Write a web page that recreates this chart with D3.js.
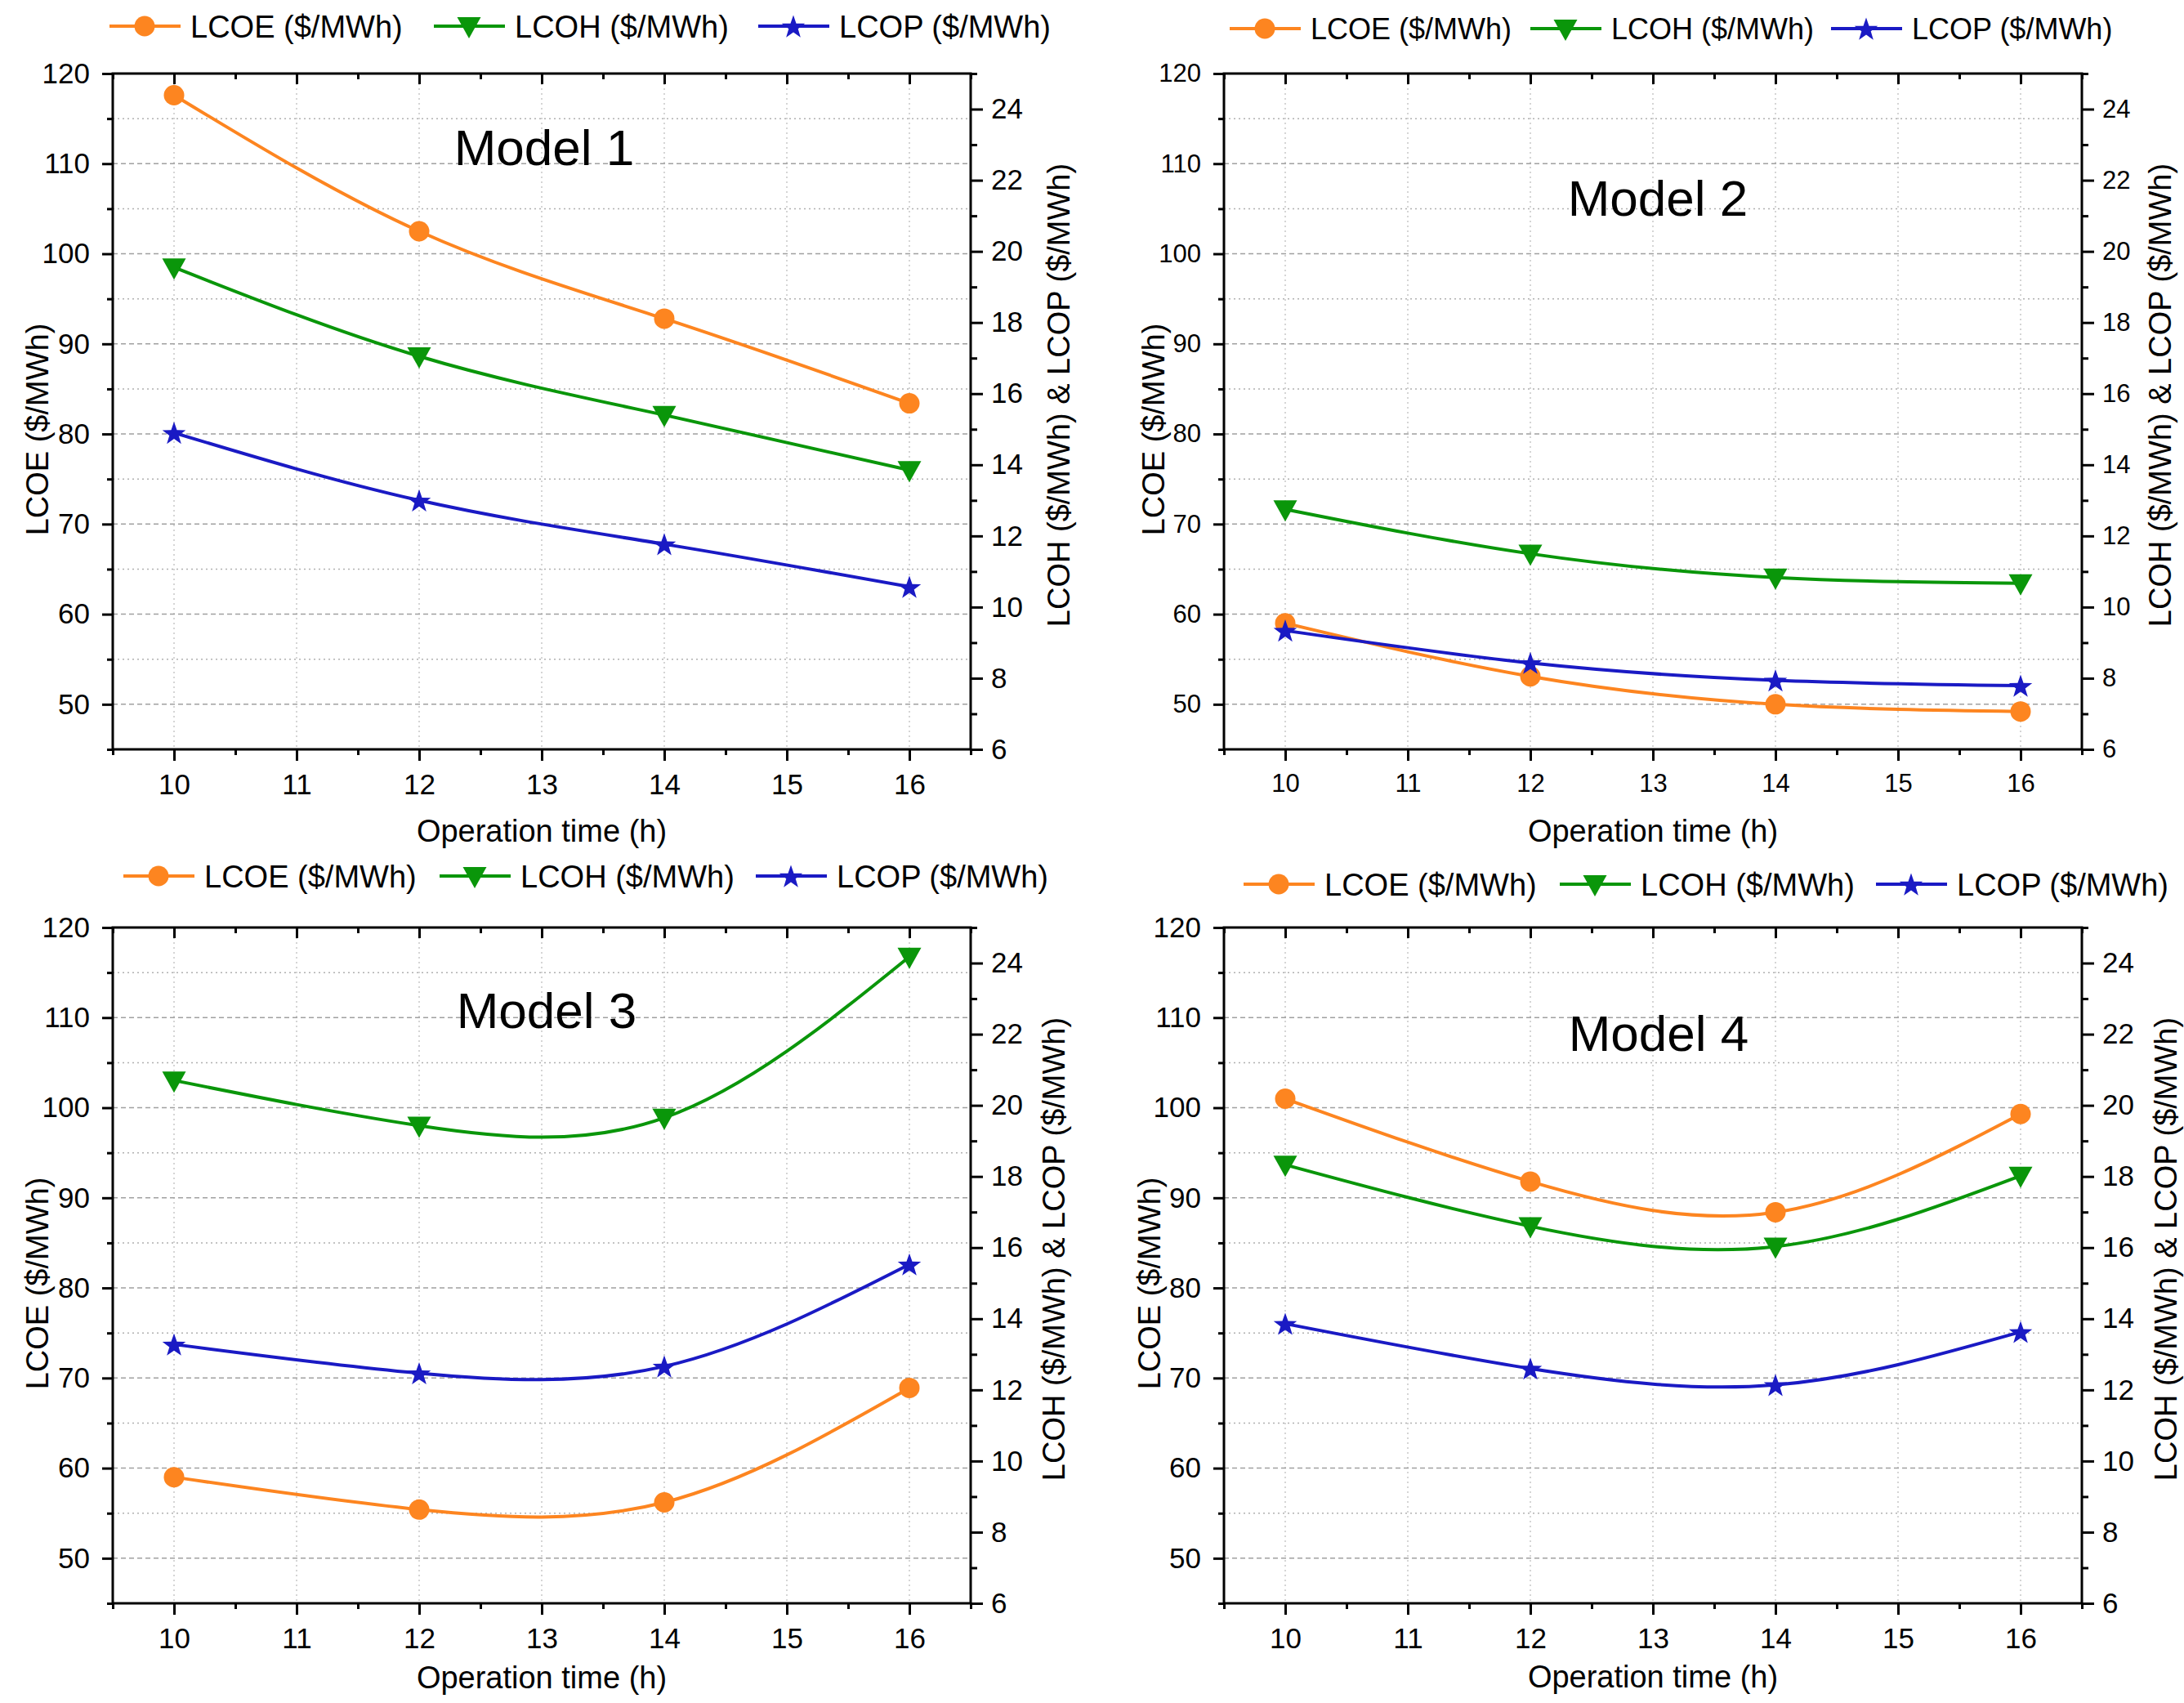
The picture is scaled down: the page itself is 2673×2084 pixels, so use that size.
<!DOCTYPE html>
<html>
<head>
<meta charset="utf-8">
<script src="https://cdn.jsdelivr.net/npm/d3@7"></script>
<style>
  body { margin: 0; background: #fff; }
  text { font-family: 'Liberation Sans', Arial, sans-serif; }
</style>
</head>
<body>
<svg id="chart" width="2673" height="2084"></svg>
<script>
// data
const hours = [10, 12, 14, 16];
const seriesNames = ['LCOE ($/MWh)', 'LCOH ($/MWh)', 'LCOP ($/MWh)'];
const modelNames = ['Model 1', 'Model 2', 'Model 3', 'Model 4'];
const lcoe = [
    [117.6, 102.5, 92.8, 83.4],
    [59.0, 53.1, 50.0, 49.2],
    [59.0, 55.4, 56.2, 68.9],
    [101.0, 91.8, 88.4, 99.3]
];
const lcoh = [
    [19.55, 17.05, 15.4, 13.85],
    [12.75, 11.5, 10.83, 10.67],
    [20.7, 19.43, 19.65, 24.18],
    [18.33, 16.6, 16.03, 18.02]
];
const lcop = [
    [14.9, 13.0, 11.77, 10.57],
    [9.34, 8.43, 7.94, 7.79],
    [13.28, 12.47, 12.66, 15.53],
    [13.86, 12.6, 12.14, 13.63]
];
const xTicks = [10, 11, 12, 13, 14, 15, 16];
const xMinor = [9.5, 10.5, 11.5, 12.5, 13.5, 14.5, 15.5, 16.5];
const leftTicks = [50, 60, 70, 80, 90, 100, 110, 120];
const leftMinor = [45, 55, 65, 75, 85, 95, 105, 115];
const rightTicks = [6, 8, 10, 12, 14, 16, 18, 20, 22, 24];
const rightMinor = [7, 9, 11, 13, 15, 17, 19, 21, 23, 25];
const xTitle = 'Operation time (h)';
const leftTitle = 'LCOE ($/MWh)';
const rightTitle = 'LCOH ($/MWh) & LCOP ($/MWh)';

const colors = ['#FD8520', '#0A960A', '#1A1AC4'];

// panel placement
const W = 1050, H = 827;
const panels = [
    {x: 138, y: 90, lx: 134, ly: 32, lstep: 397, lfs: 38, tfs: 35, model: [528, 90], ylt: -93, yrt: 107, xt: 102},
    {x: 1498, y: 90, lx: 1505, ly: 35, lstep: 368, lfs: 36, tfs: 31, model: [531, 152], ylt: -87, yrt: 95, xt: 102},
    {x: 138, y: 1135, lx: 151, ly: 1072, lstep: 387, lfs: 38, tfs: 35, model: [531, 101], ylt: -93, yrt: 101, xt: 93},
    {x: 1498, y: 1135, lx: 1522, ly: 1082, lstep: 387, lfs: 38, tfs: 35, model: [532, 129], ylt: -92, yrt: 102, xt: 92}
];

const svg = d3.select('#chart');
svg.append('rect').attr('width', 2673).attr('height', 2084).attr('fill', '#fff');

const x = d3.scaleLinear().domain([9.5, 16.5]).range([0, W]);
const yL = d3.scaleLinear().domain([45, 120]).range([H, 0]);
const yR = d3.scaleLinear().domain([6, 25]).range([H, 0]);

function marker(g, type, color) {
    if (type === 0) {
        g.append('circle').attr('r', 12.5).attr('fill', color);
    } else if (type === 1) {
        g.append('path').attr('d', 'M-14.5,-11L14.5,-11L0,15Z').attr('fill', color);
    } else {
        const pts = [];
        for (let k = 0; k < 10; k++) {
            const r = k % 2 === 0 ? 15 : 6;
            const a = -Math.PI / 2 + k * Math.PI / 5;
            pts.push([r * Math.cos(a), r * Math.sin(a) + 1.5]);
        }
        g.append('path').attr('d', 'M' + pts.join('L') + 'Z').attr('fill', color);
    }
}

function styleAxis(g, fs) {
    g.select('.domain').remove();
    g.selectAll('line').attr('stroke', '#000').attr('stroke-width', 3);
    g.selectAll('text').attr('font-size', fs).attr('fill', '#000')
        .attr('font-family', "'Liberation Sans', Arial, sans-serif");
}

panels.forEach((p, i) => {
    const g = svg.append('g').attr('transform', 'translate(' + p.x + ',' + p.y + ')');

    // grid
    const grid = g.append('g');
    grid.selectAll('.vg').data(xTicks).enter().append('line')
        .attr('x1', d => x(d)).attr('x2', d => x(d)).attr('y1', 0).attr('y2', H)
        .attr('stroke', '#c8c8c8').attr('stroke-width', 1.5).attr('stroke-dasharray', '2,4');
    grid.selectAll('.hm').data(leftMinor.filter(d => d > 45)).enter().append('line')
        .attr('x1', 0).attr('x2', W).attr('y1', d => yL(d)).attr('y2', d => yL(d))
        .attr('stroke', '#b0b0b0').attr('stroke-width', 1.5).attr('stroke-dasharray', '2,4');
    grid.selectAll('.hj').data(leftTicks.filter(d => d < 120)).enter().append('line')
        .attr('x1', 0).attr('x2', W).attr('y1', d => yL(d)).attr('y2', d => yL(d))
        .attr('stroke', '#a0a0a0').attr('stroke-width', 1.5).attr('stroke-dasharray', '6,4');

    // axes
    const ax = g.append('g').attr('transform', 'translate(0,' + H + ')')
        .call(d3.axisBottom(x).tickValues(xTicks).tickSize(14).tickPadding(16).tickSizeOuter(0).tickFormat(d3.format('d')));
    styleAxis(ax, p.tfs);
    const axm = g.append('g').attr('transform', 'translate(0,' + H + ')')
        .call(d3.axisBottom(x).tickValues(xMinor).tickSize(7).tickSizeOuter(0).tickFormat(''));
    styleAxis(axm, p.tfs);
    const at = g.append('g')
        .call(d3.axisTop(x).tickValues(xTicks).tickSize(-13).tickSizeOuter(0).tickFormat(''));
    styleAxis(at, p.tfs);
    const atm = g.append('g')
        .call(d3.axisTop(x).tickValues(xMinor).tickSize(-7).tickSizeOuter(0).tickFormat(''));
    styleAxis(atm, p.tfs);
    const al = g.append('g')
        .call(d3.axisLeft(yL).tickValues(leftTicks).tickSize(13).tickPadding(15).tickSizeOuter(0));
    styleAxis(al, p.tfs);
    const alm = g.append('g')
        .call(d3.axisLeft(yL).tickValues(leftMinor).tickSize(7).tickSizeOuter(0).tickFormat(''));
    styleAxis(alm, p.tfs);
    const ar = g.append('g').attr('transform', 'translate(' + W + ',0)')
        .call(d3.axisRight(yR).tickValues(rightTicks).tickSize(15).tickPadding(10).tickSizeOuter(0));
    styleAxis(ar, p.tfs);
    const arm = g.append('g').attr('transform', 'translate(' + W + ',0)')
        .call(d3.axisRight(yR).tickValues(rightMinor).tickSize(8).tickSizeOuter(0).tickFormat(''));
    styleAxis(arm, p.tfs);

    g.append('rect').attr('width', W).attr('height', H)
        .attr('fill', 'none').attr('stroke', '#000').attr('stroke-width', 3);

    // series
    const series = [
        {vals: lcoe[i], y: yL},
        {vals: lcoh[i], y: yR},
        {vals: lcop[i], y: yR}
    ];
    series.forEach((s, k) => {
        const pts = hours.map((h, j) => [h, s.vals[j]]);
        const line = d3.line().curve(d3.curveNatural)
            .x(d => x(d[0])).y(d => s.y(d[1]));
        g.append('path').attr('d', line(pts))
            .attr('fill', 'none').attr('stroke', colors[k]).attr('stroke-width', 4);
        pts.forEach(d => {
            const m = g.append('g').attr('transform', 'translate(' + x(d[0]) + ',' + s.y(d[1]) + ')');
            marker(m, k, colors[k]);
        });
    });

    // model label
    g.append('text').attr('x', p.model[0]).attr('y', p.model[1]).attr('dy', '0.36em')
        .attr('text-anchor', 'middle').attr('font-size', 62).text(modelNames[i]);

    // axis titles
    g.append('text').attr('x', W / 2).attr('y', H + p.xt).attr('dy', '0.3em')
        .attr('text-anchor', 'middle').attr('font-size', 38).text(xTitle);
    g.append('text').attr('transform', 'translate(' + p.ylt + ',' + (H / 2 + 22) + ') rotate(-90)')
        .attr('dy', '0.36em').attr('text-anchor', 'middle').attr('font-size', 38).text(leftTitle);
    g.append('text').attr('transform', 'translate(' + (W + p.yrt) + ',' + (H / 2 - 20) + ') rotate(-90)')
        .attr('dy', '0.36em').attr('text-anchor', 'middle').attr('font-size', 38).text(rightTitle);

    // legend
    const lg = svg.append('g');
    seriesNames.forEach((name, k) => {
        const lx = p.lx + k * p.lstep;
        lg.append('line').attr('x1', lx).attr('x2', lx + 87).attr('y1', p.ly).attr('y2', p.ly)
            .attr('stroke', colors[k]).attr('stroke-width', 4);
        const m = lg.append('g').attr('transform', 'translate(' + (lx + 43) + ',' + p.ly + ')');
        marker(m, k, colors[k]);
        lg.append('text').attr('x', lx + 99).attr('y', p.ly).attr('dy', '0.36em')
            .attr('font-size', p.lfs).text(name);
    });
});
</script>
</body>
</html>
